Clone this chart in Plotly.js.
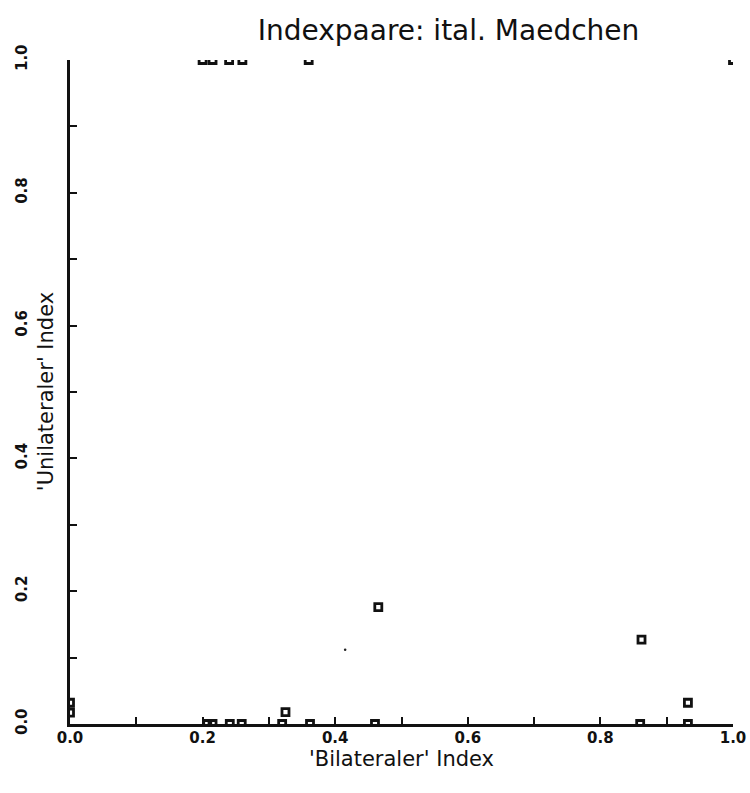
<!DOCTYPE html>
<html><head><meta charset="utf-8">
<script src="https://cdn.plot.ly/plotly-3.0.1.min.js"></script>
<style>html,body{margin:0;padding:0;background:#fff}</style>
</head><body><div id="chart" style="width:750px;height:793px"></div>
<script>
// Index pairs: x = 'Bilateraler' Index, y = 'Unilateraler' Index
var xPairs = [0.200, 0.215, 0.240, 0.260, 0.360, 1.000,
              0.207, 0.215, 0.241, 0.259, 0.320, 0.362, 0.460, 0.860, 0.932,
              0.000, 0.000,
              0.325, 0.465, 0.862, 0.932];
var yPairs = [1.000, 1.000, 1.000, 1.000, 1.000, 1.000,
              0.000, 0.000, 0.000, 0.000, 0.000, 0.000, 0.000, 0.000, 0.000,
              0.017, 0.032,
              0.018, 0.176, 0.127, 0.032];
var xDot = [0.415];
var yDot = [0.112];
var xTicks = [0.0, 0.2, 0.4, 0.6, 0.8, 1.0];
var xTickText = ['0.0', '0.2', '0.4', '0.6', '0.8', '1.0'];

var fontFam = 'DejaVu Sans, sans-serif';
var traces = [
  {x: xPairs, y: yPairs, type: 'scatter', mode: 'markers', cliponaxis: true,
   marker: {symbol: 'square-open', size: 7, color: '#111', line: {width: 2.8, color: '#111'}},
   hoverinfo: 'x+y'},
  {x: xDot, y: yDot, type: 'scatter', mode: 'markers', cliponaxis: true,
   marker: {symbol: 'circle', size: 2.5, color: '#222'}, hoverinfo: 'x+y'}
];
var axisCommon = {
  range: [0, 1], tickvals: xTicks, ticktext: xTickText,
  ticks: 'inside', ticklen: 7, tickwidth: 2, tickcolor: '#111',
  minor: {dtick: 0.1, tick0: 0, ticks: 'inside', ticklen: 7, tickwidth: 2, tickcolor: '#111'},
  showline: true, linewidth: 3, linecolor: '#111', mirror: false,
  showgrid: false, zeroline: false, fixedrange: true,
  tickfont: {family: fontFam, size: 15, color: '#111', weight: 'bold'}
};
var layout = {
  width: 750, height: 793,
  margin: {l: 70, r: 17, t: 60, b: 69},
  paper_bgcolor: '#fff', plot_bgcolor: '#fff',
  showlegend: false,
  title: {text: 'Indexpaare: ital. Maedchen', x: 0.598, xanchor: 'center', y: 0.962, yanchor: 'middle',
          font: {family: fontFam, size: 28, color: '#111'}},
  xaxis: Object.assign({}, axisCommon, {
    title: {text: "'Bilateraler' Index", standoff: 0, font: {family: fontFam, size: 21, color: '#111'}},
    ticklabelstandoff: -2
  }),
  yaxis: Object.assign({}, axisCommon, {
    tickangle: -90, ticklabelstandoff: 34,
    title: {text: ''}
  }),
  annotations: [{
    text: "'Unilateraler' Index", textangle: -90, xref: 'paper', yref: 'paper',
    x: -0.036, y: 0.5, xanchor: 'center', yanchor: 'middle', showarrow: false,
    font: {family: fontFam, size: 21, color: '#111'}
  }]
};
Plotly.newPlot('chart', traces, layout, {displayModeBar: false, staticPlot: true});
</script></body></html>
